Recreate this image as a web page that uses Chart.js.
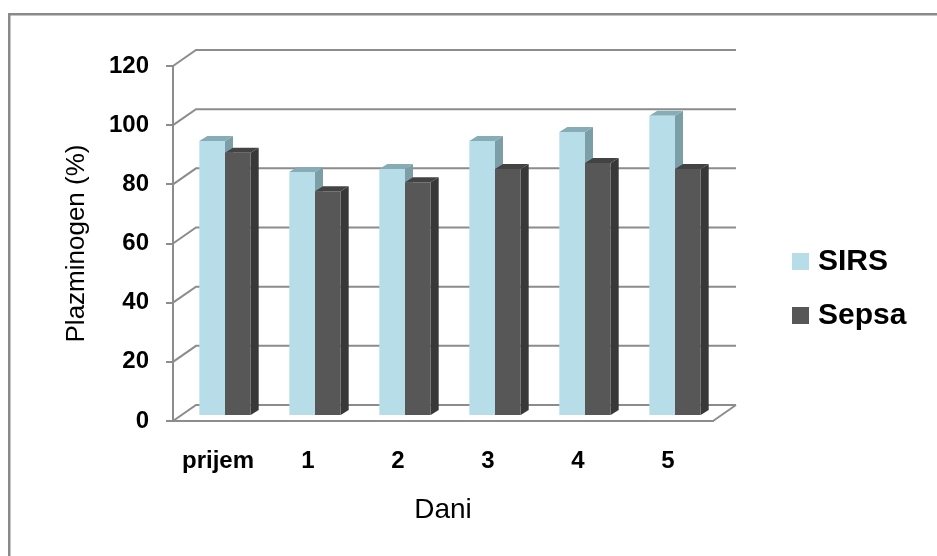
<!DOCTYPE html>
<html>
<head>
<meta charset="utf-8">
<script src="https://cdn.jsdelivr.net/npm/chart.js@4/dist/chart.umd.min.js"></script>
<style>
  html, body { margin: 0; padding: 0; background: #ffffff; }
  #wrap { width: 937px; height: 556px; }
</style>
</head>
<body>
<div id="wrap"><canvas id="chart" width="937" height="556"></canvas></div>
<script>
// Plazminogen (%) by day, SIRS vs Sepsa
const categories = ['prijem', '1', '2', '3', '4', '5'];
const seriesNames = ['SIRS', 'Sepsa'];
const sirsValues = [93, 82.5, 83.5, 93, 96, 101.5];
const sepsaValues = [89, 76, 79, 83.5, 85.5, 83.5];
const yTickValues = [0, 20, 40, 60, 80, 100, 120];
const yAxisTitle = 'Plazminogen (%)';
const xAxisTitle = 'Dani';

const FONT = '"Liberation Sans", Arial, sans-serif';
const GRID = '#8c8c8c';

// pseudo-3D geometry: back wall offset, bar row offset and bar depth
const BACK = { dx: 23, dy: -16 };
const BAR_SHIFT = { dx: 7, dy: -5 };
const BAR_DEPTH = { dx: 8, dy: -5 };

const frame = {
  id: 'frame',
  beforeDraw(chart) {
    const ctx = chart.ctx;
    ctx.save();
    ctx.fillStyle = '#ffffff';
    ctx.fillRect(0, 0, chart.width, chart.height);
    ctx.strokeStyle = '#8a8a8a';
    ctx.lineWidth = 2.5;
    ctx.strokeRect(9.25, 14.25, 1000, 1000);
    ctx.restore();
  }
};

const threeD = {
  id: 'threeD',
  beforeDatasetsDraw(chart) {
    const { ctx, chartArea: a, scales } = chart;
    const y = scales.y;
    ctx.save();
    ctx.strokeStyle = GRID;
    ctx.lineWidth = 2;
    // side-wall and back-wall gridlines
    y.ticks.forEach(t => {
      const py = y.getPixelForValue(t.value);
      ctx.beginPath();
      ctx.moveTo(a.left, py);
      ctx.lineTo(a.left + BACK.dx, py + BACK.dy);
      ctx.lineTo(a.right + BACK.dx, py + BACK.dy);
      ctx.stroke();
    });
    // right edge of the floor
    const p0 = y.getPixelForValue(0);
    ctx.beginPath();
    ctx.moveTo(a.right, p0);
    ctx.lineTo(a.right + BACK.dx, p0 + BACK.dy);
    ctx.stroke();
    ctx.restore();

    // bar row sits a little behind the front plane
    ctx.save();
    ctx.translate(BAR_SHIFT.dx, BAR_SHIFT.dy);
    chart.data.datasets.forEach((ds, i) => {
      const meta = chart.getDatasetMeta(i);
      meta.data.forEach(bar => {
        const { x, y: top, base, width } = bar.getProps(['x', 'y', 'base', 'width'], true);
        const l = x - width / 2, r = x + width / 2;
        ctx.fillStyle = ds.sideColor;
        ctx.beginPath();
        ctx.moveTo(r, top);
        ctx.lineTo(r + BAR_DEPTH.dx, top + BAR_DEPTH.dy);
        ctx.lineTo(r + BAR_DEPTH.dx, base + BAR_DEPTH.dy);
        ctx.lineTo(r, base);
        ctx.closePath();
        ctx.fill();
        ctx.fillStyle = ds.topColor;
        ctx.beginPath();
        ctx.moveTo(l, top);
        ctx.lineTo(l + BAR_DEPTH.dx, top + BAR_DEPTH.dy);
        ctx.lineTo(r + BAR_DEPTH.dx, top + BAR_DEPTH.dy);
        ctx.lineTo(r, top);
        ctx.closePath();
        ctx.fill();
      });
    });
  },
  afterDatasetsDraw(chart) {
    chart.ctx.restore();
  }
};

const sideLegend = {
  id: 'sideLegend',
  afterDraw(chart) {
    const ctx = chart.ctx;
    ctx.save();
    chart.data.datasets.forEach((ds, i) => {
      const top = 253 + i * 54;
      ctx.fillStyle = ds.backgroundColor;
      ctx.fillRect(792, top, 17, 17);
      ctx.fillStyle = '#000000';
      ctx.font = 'bold 30px ' + FONT;
      ctx.textBaseline = 'middle';
      ctx.textAlign = 'left';
      ctx.fillText(ds.label, 818, top + 9);
    });
    ctx.restore();
  }
};

new Chart(document.getElementById('chart'), {
  type: 'bar',
  data: {
    labels: categories,
    datasets: [
      {
        label: seriesNames[0],
        data: sirsValues,
        backgroundColor: '#b7dee8',
        sideColor: '#7c9ea7',
        topColor: '#88acb5',
        borderWidth: 0,
        categoryPercentage: 0.571,
        barPercentage: 1,
        clip: false
      },
      {
        label: seriesNames[1],
        data: sepsaValues,
        backgroundColor: '#575757',
        sideColor: '#383838',
        topColor: '#434343',
        borderWidth: 0,
        categoryPercentage: 0.571,
        barPercentage: 1,
        clip: false
      }
    ]
  },
  options: {
    responsive: false,
    animation: false,
    devicePixelRatio: 1,
    layout: { padding: { left: 0, right: 224, top: 66, bottom: 0 } },
    plugins: {
      legend: { display: false },
      tooltip: { enabled: false }
    },
    scales: {
      x: {
        grid: { display: false, drawTicks: false },
        border: { display: true, color: GRID, width: 2 },
        ticks: {
          color: '#000000',
          padding: 26,
          maxRotation: 0,
          font: { family: FONT, size: 24, weight: 'bold' }
        },
        title: {
          display: true,
          text: xAxisTitle,
          color: '#000000',
          font: { family: FONT, size: 28, weight: 'normal' },
          padding: { top: 0, bottom: 29 }
        },
        afterFit(s) { s.height = 135; }
      },
      y: {
        min: 0,
        max: 120,
        afterBuildTicks(s) { s.ticks = yTickValues.map(v => ({ value: v })); },
        grid: {
          display: true,
          drawOnChartArea: false,
          drawTicks: true,
          tickLength: 7,
          color: GRID,
          lineWidth: 2
        },
        border: { display: true, color: GRID, width: 2 },
        ticks: {
          color: '#000000',
          padding: 17,
          font: { family: FONT, size: 24, weight: 'bold' }
        },
        title: {
          display: true,
          text: yAxisTitle,
          color: '#000000',
          font: { family: FONT, size: 26, weight: 'normal' },
          padding: { top: 61, bottom: 0 }
        },
        afterFit(s) { s.width = 173; }
      }
    }
  },
  plugins: [frame, threeD, sideLegend]
});
</script>
</body>
</html>
